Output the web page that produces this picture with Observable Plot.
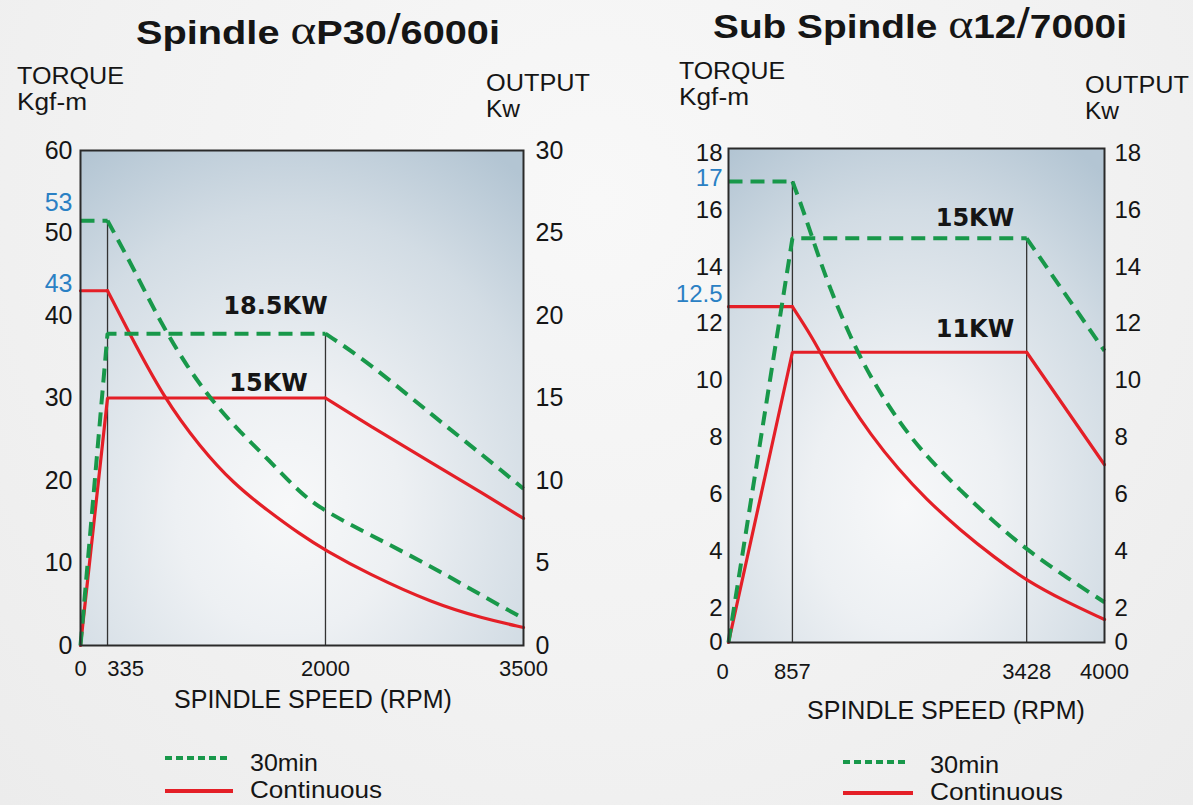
<!DOCTYPE html>
<html>
<head>
<meta charset="utf-8">
<script src="https://cdn.jsdelivr.net/npm/d3@7"></script>
<script src="https://cdn.jsdelivr.net/npm/@observablehq/plot@0.6"></script>
<style>
  html, body { margin:0; padding:0; background:#f0f0f0; }
  #page { position:relative; width:1193px; height:805px; overflow:hidden;
    background: radial-gradient(ellipse at 50% 25%, #f8f8f8 0%, #f2f2f2 55%, #ececec 100%);
    font-family: "Liberation Sans", Arial, sans-serif; }
  .panel { position:absolute; }
  .panel svg { display:block; max-width:none; }
  #overlay { position:absolute; left:0; top:0; }
</style>
</head>
<body>
<div id="page">
  <div class="panel" id="left" style="left:0px;top:130px"></div>
  <div class="panel" id="right" style="left:600px;top:130px"></div>
</div>
<script>
// ---------------- DATA ----------------
// Spindle αP30/6000i  (speed rpm, torque kgf-m / output kW)
const mainSpeedTicks = [0, 335, 2000, 3500];
const mainTorqueTicks = [0, 10, 20, 30, 40, 50, 60];
const mainOutputTicks = [0, 5, 10, 15, 20, 25, 30];
const mainTorque30 = [[0,51.5],[335,51.5],[534,45.7],[740,39.15],[946,33.7],[1145,29.45],[1351,25.8],[1557,22.67],[1809,18.42],[2000,16.24],[2318,13.58],[2818,9.45],[3197,5.94],[3500,3.27]];
const mainTorqueCont = [[0,43],[335,43],[495,38.06],[763,30.06],[1045,24.0],[1297,19.64],[1557,16.36],[1809,13.45],[2000,11.52],[2318,8.73],[2818,5.09],[3197,3.27],[3500,2.18]];
const mainOutput30 = [[0,0],[335,18.9],[2000,18.9],[2318,17.2],[2818,13.9],[3197,11.5],[3500,9.5]];
const mainOutputCont = [[0,0],[335,15],[2000,15],[2318,13.4],[2818,11.0],[3197,9.2],[3500,7.7]];
const mainRefLinesTorque = [[335, 51.5]];   // [rpm, top in kgf-m]
const mainRefLinesOutput = [[2000, 18.9]];  // [rpm, top in kW]
const mainKwLabels = [["18.5KW", 1618, 20.1], ["15KW", 1565, 15.45]];  // [text, rpm, kW]

// Sub Spindle α12/7000i
const subSpeedTicks = [0, 857, 3428, 4000];
const subTorqueTicks = [0, 2, 4, 6, 8, 10, 12, 14, 16, 18];
const subOutputTicks = [0, 2, 4, 6, 8, 10, 12, 14, 16, 18];
const subTorque30 = [[0,17],[857,17],[967,16.07],[1110,14.68],[1264,13.28],[1494,11.52],[1714,10.11],[2022,8.57],[2318,7.37],[2703,6.14],[3076,5.02],[3428,4.07],[3699,3.16],[4000,2.22]];
const subTorqueCont = [[0,12.6],[857,12.6],[1077,11.52],[1264,10.39],[1450,9.38],[1714,8.11],[2022,6.88],[2318,5.86],[2703,4.74],[3076,3.79],[3428,2.98],[3699,2.28],[4000,1.35]];
const subOutput30 = [[0,0],[857,15],[3428,15],[4000,11.05]];
const subOutputCont = [[0,0],[857,11],[3428,11],[4000,7.05]];
const subRefLines = [[857, 17], [3428, 15]];
const subKwLabels = [["15KW", 2860, 15.45], ["11KW", 2860, 11.55]];

// ---------------- STYLE ----------------
const GREEN = "#18984a", RED = "#e41f27", BLUE = "#2a80c4", INK = "#151515";
const FONT = "'Liberation Sans', Arial, sans-serif";
const dashed = {stroke: GREEN, strokeWidth: 4, strokeDasharray: "14,8", strokeLinecap: "butt", strokeLinejoin: "miter"};
const solid = {stroke: RED, strokeWidth: 3.2, strokeLinejoin: "miter"};
const fmt = v => String(Math.round(v * 10) / 10);

// The printed charts place their speed ticks (and the sub chart its torque ticks)
// unevenly; these piecewise-linear d3 scales reproduce that axis layout.
const mainWarpX = d3.scaleLinear(mainSpeedTicks, [0, 0.061, 0.553, 1]);
const subWarpX = d3.scaleLinear(subSpeedTicks, [0, 0.170, 0.793, 1]);
const subWarpY = d3.scaleLinear([0, 2, 18], [0, 0.0688, 0.991]);

function curveMarks(data, k, fx, fy, style) {
  const x = d => fx(d[0]), y = d => fy(d[1]);
  return [
    Plot.line(data.slice(0, k + 1), {x, y, curve: "linear", ...style}),
    Plot.line(data.slice(k), {x, y, curve: "basis", ...style})
  ];
}

function addGradient(svg, id) {
  const ns = "http://www.w3.org/2000/svg";
  const defs = document.createElementNS(ns, "defs");
  defs.innerHTML = `<radialGradient id="${id}" cx="0.47" cy="0.72" r="0.85">
      <stop offset="0" stop-color="#f7f8f9"/>
      <stop offset="0.3" stop-color="#edf0f3"/>
      <stop offset="0.7" stop-color="#d2dce4"/>
      <stop offset="1" stop-color="#b3c5d3"/>
    </radialGradient>`;
  svg.insertBefore(defs, svg.firstChild);
}

// ---------------- LEFT CHART ----------------
const L = {w: 600, h: 560, ml: 80, mr: 77, mt: 20, mb: 45};
const mainY = v => v;          // torque axis (kgf-m)
const mainYout = v => v * 2;   // output axis (kW) shares the frame: 30 kW = 60 kgf-m
const axText = {tickSize: 0, label: null};
const left = Plot.plot({
  width: L.w, height: L.h,
  marginLeft: L.ml, marginRight: L.mr, marginTop: L.mt, marginBottom: L.mb,
  style: {background: "transparent", fontFamily: FONT, color: INK, overflow: "visible"},
  x: {domain: [0, 1]},
  y: {domain: [0, 60]},
  marks: [
    Plot.frame({fill: "url(#gradMain)", stroke: "none"}),
    Plot.ruleX(mainRefLinesTorque, {x: d => mainWarpX(d[0]), y1: 0, y2: d => mainY(d[1]), stroke: "#333", strokeWidth: 1.3}),
    Plot.ruleX(mainRefLinesOutput, {x: d => mainWarpX(d[0]), y1: 0, y2: d => mainYout(d[1]), stroke: "#333", strokeWidth: 1.3}),
    ...curveMarks(mainOutputCont, 2, mainWarpX, mainYout, solid),
    ...curveMarks(mainTorqueCont, 1, mainWarpX, mainY, solid),
    ...curveMarks(mainOutput30, 2, mainWarpX, mainYout, dashed),
    ...curveMarks(mainTorque30, 1, mainWarpX, mainY, dashed),
    Plot.text(mainKwLabels, {x: d => mainWarpX(d[1]), y: d => mainYout(d[2]), text: d => d[0], fontSize: 24, fontWeight: "bold",
      fontFamily: "'DejaVu Sans', sans-serif", lineAnchor: "bottom", fill: INK}),
    Plot.frame({stroke: "#2a2a2a", strokeWidth: 2}),
    Plot.axisY(mainTorqueTicks, {...axText, anchor: "left", tickPadding: 8, fontSize: 25}),
    Plot.axisY([53], {...axText, anchor: "left", tickPadding: 8, fontSize: 25, color: BLUE, dy: -5}),
    Plot.axisY([43], {...axText, anchor: "left", tickPadding: 8, fontSize: 25, color: BLUE, dy: -7}),
    Plot.axisY(mainOutputTicks.map(mainYout), {...axText, anchor: "right", tickPadding: 12, fontSize: 25, tickFormat: v => fmt(v / 2)}),
    Plot.axisX([0, 2000, 3500].map(mainWarpX), {...axText, tickPadding: 15, fontSize: 22, tickFormat: v => fmt(mainWarpX.invert(v))}),
    Plot.axisX([335].map(mainWarpX), {...axText, tickPadding: 15, fontSize: 22, dx: 18, tickFormat: v => fmt(mainWarpX.invert(v))})
  ]
});
addGradient(left, "gradMain");
document.getElementById("left").appendChild(left);

// ---------------- RIGHT CHART ----------------
const R = {w: 593, h: 560, ml: 128, mr: 89, mt: 18, mb: 48};
const right = Plot.plot({
  width: R.w, height: R.h,
  marginLeft: R.ml, marginRight: R.mr, marginTop: R.mt, marginBottom: R.mb,
  style: {background: "transparent", fontFamily: FONT, color: INK, overflow: "visible"},
  x: {domain: [0, 1]},
  y: {domain: [0, 1]},
  marks: [
    Plot.frame({fill: "url(#gradSub)", stroke: "none"}),
    Plot.ruleX(subRefLines, {x: d => subWarpX(d[0]), y1: 0, y2: d => subWarpY(d[1]), stroke: "#333", strokeWidth: 1.3}),
    ...curveMarks(subOutputCont, 2, subWarpX, subWarpY, solid),
    ...curveMarks(subTorqueCont, 1, subWarpX, subWarpY, solid),
    ...curveMarks(subOutput30, 2, subWarpX, subWarpY, dashed),
    ...curveMarks(subTorque30, 1, subWarpX, subWarpY, dashed),
    Plot.text(subKwLabels, {x: d => subWarpX(d[1]), y: d => subWarpY(d[2]), text: d => d[0], fontSize: 24, fontWeight: "bold",
      fontFamily: "'DejaVu Sans', sans-serif", lineAnchor: "bottom", fill: INK}),
    Plot.frame({stroke: "#2a2a2a", strokeWidth: 2}),
    Plot.axisY(subTorqueTicks.map(subWarpY), {...axText, anchor: "left", tickPadding: 6, fontSize: 24, tickFormat: v => fmt(subWarpY.invert(v))}),
    Plot.axisY([17].map(subWarpY), {...axText, anchor: "left", tickPadding: 6, fontSize: 24, color: BLUE, dy: -3, tickFormat: v => fmt(subWarpY.invert(v))}),
    Plot.axisY([12.5].map(subWarpY), {...axText, anchor: "left", tickPadding: 6, fontSize: 24, color: BLUE, dy: -15, tickFormat: v => fmt(subWarpY.invert(v))}),
    Plot.axisY(subOutputTicks.map(subWarpY), {...axText, anchor: "right", tickPadding: 10, fontSize: 24, tickFormat: v => fmt(subWarpY.invert(v))}),
    Plot.axisX([857, 3428, 4000].map(subWarpX), {...axText, tickPadding: 21, fontSize: 22, tickFormat: v => fmt(subWarpX.invert(v))}),
    Plot.axisX([0].map(subWarpX), {...axText, tickPadding: 21, fontSize: 22, dx: -6, tickFormat: v => fmt(subWarpX.invert(v))})
  ]
});
addGradient(right, "gradSub");
document.getElementById("right").appendChild(right);

// ---------------- TITLES, AXIS NAMES, LEGENDS ----------------
const ns = "http://www.w3.org/2000/svg";
const ov = document.createElementNS(ns, "svg");
ov.setAttribute("id", "overlay");
ov.setAttribute("width", 1193);
ov.setAttribute("height", 805);
ov.setAttribute("font-family", FONT);
ov.setAttribute("fill", INK);
ov.innerHTML = `
  <text x="136" y="44" font-size="34" font-weight="bold" textLength="364" lengthAdjust="spacingAndGlyphs">Spindle <tspan font-family="'Liberation Serif', serif" font-weight="normal" font-size="42">α</tspan>P30<tspan font-weight="normal" font-size="42">/</tspan>6000i</text>
  <text x="713" y="38" font-size="34" font-weight="bold" textLength="414" lengthAdjust="spacingAndGlyphs">Sub Spindle <tspan font-family="'Liberation Serif', serif" font-weight="normal" font-size="42">α</tspan>12<tspan font-weight="normal" font-size="42">/</tspan>7000i</text>

  <text x="17" y="84" font-size="23" textLength="107" lengthAdjust="spacingAndGlyphs">TORQUE</text>
  <text x="17" y="110" font-size="23" textLength="70" lengthAdjust="spacingAndGlyphs">Kgf-m</text>
  <text x="486" y="91" font-size="23" textLength="104" lengthAdjust="spacingAndGlyphs">OUTPUT</text>
  <text x="486" y="117" font-size="23" textLength="34" lengthAdjust="spacingAndGlyphs">Kw</text>

  <text x="679" y="79" font-size="23" textLength="106" lengthAdjust="spacingAndGlyphs">TORQUE</text>
  <text x="679" y="105" font-size="23" textLength="70" lengthAdjust="spacingAndGlyphs">Kgf-m</text>
  <text x="1085" y="93" font-size="23" textLength="104" lengthAdjust="spacingAndGlyphs">OUTPUT</text>
  <text x="1085" y="119" font-size="23" textLength="34" lengthAdjust="spacingAndGlyphs">Kw</text>

  <text x="313" y="708" font-size="25" text-anchor="middle">SPINDLE SPEED (RPM)</text>
  <text x="946" y="719" font-size="25" text-anchor="middle">SPINDLE SPEED (RPM)</text>

  <line x1="165" x2="229" y1="758" y2="758" stroke="${GREEN}" stroke-width="4" stroke-dasharray="7,4"/>
  <text x="250" y="771" font-size="24" textLength="68" lengthAdjust="spacingAndGlyphs">30min</text>
  <line x1="165" x2="233" y1="791" y2="791" stroke="${RED}" stroke-width="4"/>
  <text x="250" y="798" font-size="24" textLength="132" lengthAdjust="spacingAndGlyphs">Continuous</text>

  <line x1="843" x2="908" y1="762" y2="762" stroke="${GREEN}" stroke-width="4" stroke-dasharray="7,4"/>
  <text x="930" y="773" font-size="24" textLength="69" lengthAdjust="spacingAndGlyphs">30min</text>
  <line x1="843" x2="913" y1="793" y2="793" stroke="${RED}" stroke-width="4"/>
  <text x="930" y="800" font-size="24" textLength="133" lengthAdjust="spacingAndGlyphs">Continuous</text>
`;
document.getElementById("page").appendChild(ov);
</script>
</body>
</html>
